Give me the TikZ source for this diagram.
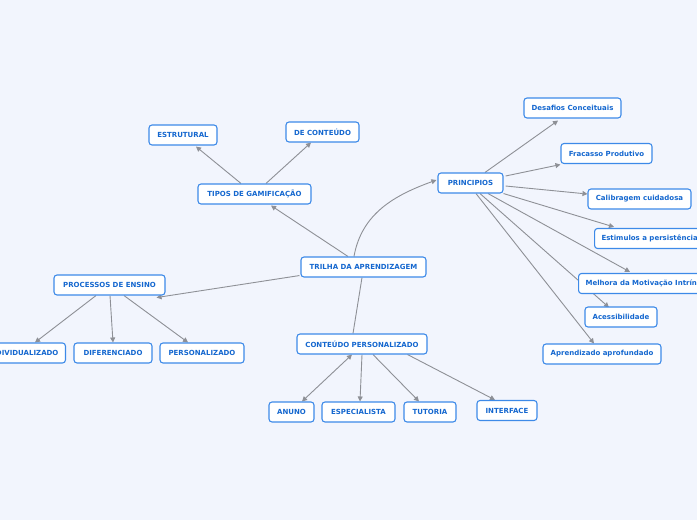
\documentclass[tikz,border=0pt]{standalone}
\usepackage{fontspec}
\setmainfont{DejaVu Sans}
\usetikzlibrary{arrows.meta,calc,backgrounds}
\definecolor{paper}{HTML}{F2F5FD}
\definecolor{mapblue}{HTML}{3D8AE8}
\definecolor{mapink}{HTML}{1467CF}
\definecolor{linkgray}{HTML}{8E9096}
\tikzset{topic/.style={draw=mapblue,line width=1.1pt,fill=white,rounded corners=3pt,text=mapink,font=\fontsize{7}{8}\selectfont\bfseries,minimum height=20pt,inner xsep=7pt,inner ysep=0pt},link/.style={draw=linkgray,line width=.9pt,-{Triangle[length=5pt,width=5pt]}},plainlink/.style={link,-},bothlink/.style={link,{Triangle[length=5pt,width=5pt]}-{Triangle[length=5pt,width=5pt]}}}

\begin{document}
\begin{tikzpicture}[x=1pt,y=-1pt]
\useasboundingbox (0,0) rectangle (697,520);
\clip (0,0) rectangle (697,520);
% centre and its branches
\node[topic,minimum width=125pt] (trilha) at (363.5,267) {TRILHA DA APRENDIZAGEM};
\node[topic,minimum width=113pt] (tipos) at (254.5,194) {TIPOS DE GAMIFICAÇÃO};
\node[topic,minimum width=68pt] (estrutural) at (183,135) {ESTRUTURAL};
\node[topic,minimum width=73pt] (deconteudo) at (322.5,132) {DE CONTEÚDO};
\node[topic,minimum width=111pt] (processos) at (109.5,285) {PROCESSOS DE ENSINO};
\node[topic,anchor=east] (individ) at (66,353) {INDIVIDUALIZADO};
\node[topic,minimum width=78pt] (diferenc) at (113,353) {DIFERENCIADO};
\node[topic,minimum width=84pt] (personal) at (202,353) {PERSONALIZADO};
\node[topic,minimum width=130pt] (conteudo) at (362,344) {CONTEÚDO PERSONALIZADO};
\node[topic,minimum width=45pt] (anuno) at (291.5,412) {ANUNO};
\node[topic,minimum width=73pt] (especial) at (358.5,412) {ESPECIALISTA};
\node[topic,minimum width=52pt] (tutoria) at (430,412) {TUTORIA};
\node[topic,minimum width=60pt] (interface) at (507,410.5) {INTERFACE};
\node[topic,minimum width=65pt] (principios) at (470.5,183) {PRINCIPIOS};
\node[topic,minimum width=97pt] (desafios) at (572.5,108) {Desafios Conceituais};
\node[topic,minimum width=91pt] (fracasso) at (606.5,153.5) {Fracasso Produtivo};
\node[topic,minimum width=103pt] (calibragem) at (639.5,199) {Calibragem cuidadosa};
\node[topic,anchor=west] (estimulos) at (594,238.5) {Estimulos a persistência};
\node[topic,anchor=west] (melhora) at (578,283.5) {Melhora da Motivação Intrínseca};
\node[topic,minimum width=72pt] (acessib) at (621,317) {Acessibilidade};
\node[topic,minimum width=118pt] (aprofund) at (602,354) {Aprendizado aprofundado};
\begin{scope}[on background layer]
\fill[paper] (0,0) rectangle (697,520);
\draw[link] ($(trilha.north)+(-15.5,0)$) -- ($(tipos.south)+(16.5,1)$);
\draw[link] ($(tipos.north)+(-13.5,0)$) -- ($(estrutural.south)+(13,1)$);
\draw[link] ($(tipos.north)+(11.5,0)$) -- ($(deconteudo.south)+(-11.5,0)$);
\draw[link] ($(trilha.south west)+(-1,-2)$) -- ($(processos.south east)+(-9,2)$);
\draw[link] ($(processos.south)+(-13.5,0)$) -- ($(individ.north east)+(-31,0)$);
\draw[link] ($(processos.south)+(0.5,0)$) -- (diferenc.north);
\draw[link] ($(processos.south)+(14.5,0)$) -- ($(personal.north)+(-14,0)$);
\draw[plainlink] ($(trilha.south)+(-1.5,0)$) -- ($(conteudo.north)+(-9,0)$);
\draw[bothlink] ($(conteudo.south)+(-10,0)$) -- ($(anuno.north)+(10.5,0)$);
\draw[link] (conteudo.south) -- ($(especial.north)+(1.5,0)$);
\draw[link] ($(conteudo.south)+(11,0)$) -- ($(tutoria.north)+(-11,0)$);
\draw[link] ($(conteudo.south east)+(-20,0)$) -- ($(interface.north)+(-12,0)$);
\draw[link] ($(trilha.north)+(-9.5,0)$) to[out=80,in=200] ($(principios.west)+(-1,-3)$);
\draw[link] ($(principios.north)+(14.5,0)$) -- ($(desafios.south)+(-14.5,2)$);
\draw[link] ($(principios.east)+(2,-7)$) -- ($(fracasso.south west)+(0,0.5)$);
\draw[link] ($(principios.east)+(2,3)$) -- ($(calibragem.west)+(0,-5)$);
\draw[link] (principios.south east) -- ($(estimulos.north west)+(20,-1)$);
\draw[link] ($(principios.south)+(17.5,0)$) -- ($(melhora.north west)+(52,-1)$);
\draw[link] ($(principios.south)+(9.5,0)$) -- ($(acessib.north)+(-12,1)$);
\draw[link] ($(principios.south)+(5.5,0)$) -- ($(aprofund.north)+(-8,0)$);
\end{scope}
\end{tikzpicture}
\end{document}
